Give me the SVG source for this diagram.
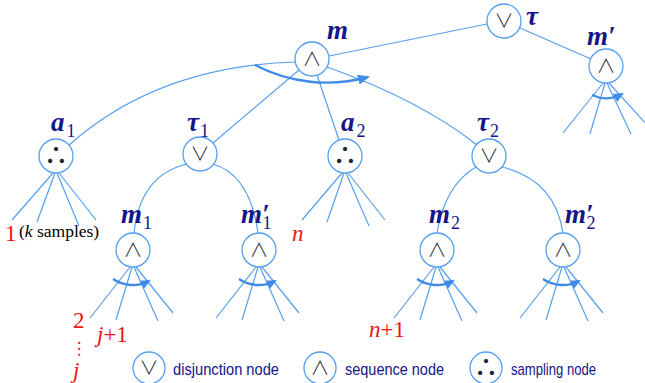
<svg xmlns="http://www.w3.org/2000/svg" width="645" height="383" viewBox="0 0 645 383">
<defs>
<style>
.e{fill:none;stroke:#559ff0;stroke-width:1.2}
.arc{fill:none;stroke:#3f8ce6;stroke-width:2.4}
.nd{fill:#fff;stroke:#559ff0;stroke-width:1.3}
.sym{font-family:"Noto Sans CJK JP","DejaVu Sans",sans-serif;font-weight:300;font-size:19px;fill:#1b2233;text-anchor:middle}
.dots{font-family:"Noto Sans CJK JP","DejaVu Sans",sans-serif;font-weight:bold;font-size:24px;fill:#1b2233;text-anchor:middle}
.lb{font-family:"Liberation Serif",serif;font-style:italic;font-weight:bold;font-size:27px;fill:#15158a}
.sub{font-family:"Liberation Serif",serif;font-style:normal;font-weight:normal;font-size:18px;fill:#15158a}
.red{font-family:"Liberation Serif",serif;font-size:23px;fill:#f01414}
.blk{font-family:"Liberation Serif",serif;font-size:17.5px;fill:#000}
.lg{font-family:"Liberation Sans",sans-serif;font-size:17px;fill:#15158a}
</style>
<marker id="ah" markerUnits="userSpaceOnUse" markerWidth="10" markerHeight="9" refX="8" refY="4.5" orient="auto"><path d="M0,0 L10,4.5 L0,9 Z" fill="#3f8ce6"/></marker>
<marker id="ahb" markerUnits="userSpaceOnUse" markerWidth="12" markerHeight="10" refX="10" refY="5" orient="auto"><path d="M0,0 L12,5 L0,10 Z" fill="#3f8ce6"/></marker>
</defs>

<g id="connectors">
<line class="e" x1="487" y1="24" x2="329" y2="56"/>
<line class="e" x1="520" y1="28" x2="591" y2="59"/>
<path class="e" d="M296,62 Q158,66 69,145"/>
<line class="e" x1="299" y1="70" x2="213" y2="143"/>
<line class="e" x1="317" y1="75" x2="339" y2="140"/>
<path class="e" d="M327,67 Q420,100 477,145"/>
<path class="e" d="M187,164 Q140,175 134,233"/>
<path class="e" d="M213,164 Q250,175 258,233"/>
<path class="e" d="M476,167 Q445,185 437,233"/>
<path class="e" d="M502,167 Q555,180 563,233"/>
<line class="e" x1="53" y1="173" x2="12" y2="220"/>
<line class="e" x1="55" y1="173" x2="37" y2="222"/>
<line class="e" x1="57" y1="173" x2="79" y2="226"/>
<line class="e" x1="59" y1="173" x2="96" y2="220"/>
<line class="e" x1="342" y1="173" x2="302" y2="220"/>
<line class="e" x1="344" y1="173" x2="327" y2="222"/>
<line class="e" x1="346" y1="173" x2="369" y2="226"/>
<line class="e" x1="348" y1="173" x2="385" y2="220"/>
<line class="e" x1="603" y1="83" x2="563" y2="133"/>
<line class="e" x1="605" y1="83" x2="590" y2="134"/>
<line class="e" x1="607" y1="83" x2="631" y2="134"/>
<line class="e" x1="609" y1="83" x2="648" y2="126"/>
<line class="e" x1="130" y1="267" x2="90" y2="318"/>
<line class="e" x1="132" y1="267" x2="116" y2="320"/>
<line class="e" x1="134" y1="267" x2="158" y2="321"/>
<line class="e" x1="136" y1="267" x2="173" y2="313"/>
<line class="e" x1="256" y1="267" x2="216" y2="318"/>
<line class="e" x1="258" y1="267" x2="242" y2="320"/>
<line class="e" x1="260" y1="267" x2="284" y2="321"/>
<line class="e" x1="262" y1="267" x2="299" y2="313"/>
<line class="e" x1="434" y1="267" x2="394" y2="318"/>
<line class="e" x1="436" y1="267" x2="420" y2="320"/>
<line class="e" x1="438" y1="267" x2="462" y2="321"/>
<line class="e" x1="440" y1="267" x2="477" y2="313"/>
<line class="e" x1="560" y1="267" x2="520" y2="318"/>
<line class="e" x1="562" y1="267" x2="546" y2="320"/>
<line class="e" x1="564" y1="267" x2="588" y2="321"/>
<line class="e" x1="566" y1="267" x2="603" y2="313"/>
<path class="arc" d="M255,65 A155,155 0 0,0 368,77" marker-end="url(#ahb)"/>
<path class="arc" d="M592,95 A32,32 0 0,0 622,94" marker-end="url(#ah)"/>
<path class="arc" d="M113,279 A35,35 0 0,0 149,281" marker-end="url(#ah)"/>
<path class="arc" d="M239,279 A35,35 0 0,0 275,281" marker-end="url(#ah)"/>
<path class="arc" d="M417,279 A35,35 0 0,0 453,281" marker-end="url(#ah)"/>
<path class="arc" d="M543,279 A35,35 0 0,0 579,281" marker-end="url(#ah)"/>
</g>

<g id="tau"><circle class="nd" cx="504" cy="21" r="17"/><text class="sym" x="504" y="28">∨</text><text class="lb" x="526" y="25">τ</text></g>
<g id="m"><circle class="nd" cx="312" cy="59" r="17"/><text class="sym" x="312" y="66">∧</text><text class="lb" x="327" y="39">m</text></g>
<g id="m-prime"><circle class="nd" cx="606" cy="66" r="17"/><text class="sym" x="606" y="73">∧</text><text class="lb" x="587" y="45">m′</text></g>
<g id="a1"><circle class="nd" cx="56" cy="156" r="17"/><text class="dots" x="56" y="164">∴</text><text class="lb" x="51" y="131">a<tspan class="sub" dx="2" dy="6">1</tspan></text></g>
<g id="tau1"><circle class="nd" cx="200" cy="154" r="17"/><text class="sym" x="200" y="161">∨</text><text class="lb" x="187" y="131">τ<tspan class="sub" dx="1" dy="6">1</tspan></text></g>
<g id="a2"><circle class="nd" cx="345" cy="156" r="17"/><text class="dots" x="345" y="164">∴</text><text class="lb" x="341" y="131">a<tspan class="sub" dx="2" dy="6">2</tspan></text></g>
<g id="tau2"><circle class="nd" cx="489" cy="156" r="17"/><text class="sym" x="489" y="163">∨</text><text class="lb" x="477" y="131">τ<tspan class="sub" dx="1" dy="6">2</tspan></text></g>
<g id="m1"><circle class="nd" cx="133" cy="250" r="17"/><text class="sym" x="133" y="257">∧</text><text class="lb" x="121" y="223">m<tspan class="sub" dx="1" dy="6">1</tspan></text></g>
<g id="m1-prime"><circle class="nd" cx="259" cy="250" r="17"/><text class="sym" x="259" y="257">∧</text><text class="lb" x="241" y="223">m′<tspan class="sub" dx="-7" dy="6">1</tspan></text></g>
<g id="m2"><circle class="nd" cx="437" cy="250" r="17"/><text class="sym" x="437" y="257">∧</text><text class="lb" x="429" y="223">m<tspan class="sub" dx="1" dy="6">2</tspan></text></g>
<g id="m2-prime"><circle class="nd" cx="563" cy="250" r="17"/><text class="sym" x="563" y="257">∧</text><text class="lb" x="565" y="223">m′<tspan class="sub" dx="-7" dy="6">2</tspan></text></g>

<g id="annotations">
<text class="red" x="5" y="241" font-size="26">1</text>
<text class="blk" x="19" y="237">(<tspan font-style="italic">k</tspan> samples)</text>
<text class="red" x="292" y="241" font-style="italic">n</text>
<text class="red" x="73" y="328">2</text>
<text x="79" y="354" font-family="DejaVu Sans, sans-serif" font-size="17" fill="#f01414" text-anchor="middle">⋮</text>
<text class="red" x="73" y="378" font-style="italic">j</text>
<text class="red" x="97" y="342"><tspan font-style="italic">j</tspan>+1</text>
<text class="red" x="369" y="337"><tspan font-style="italic">n</tspan>+1</text>
</g>

<g id="legend">
<circle class="nd" cx="149" cy="368" r="16"/><text class="sym" x="149" y="375">∨</text>
<text class="lg" x="173" y="375" textLength="106" lengthAdjust="spacingAndGlyphs">disjunction node</text>
<circle class="nd" cx="320" cy="368" r="16"/><text class="sym" x="320" y="375">∧</text>
<text class="lg" x="345" y="375" textLength="99" lengthAdjust="spacingAndGlyphs">sequence node</text>
<circle class="nd" cx="486" cy="368" r="16"/><text class="dots" x="486" y="376">∴</text>
<text class="lg" x="511" y="375" textLength="85" lengthAdjust="spacingAndGlyphs">sampling node</text>
</g>
</svg>
